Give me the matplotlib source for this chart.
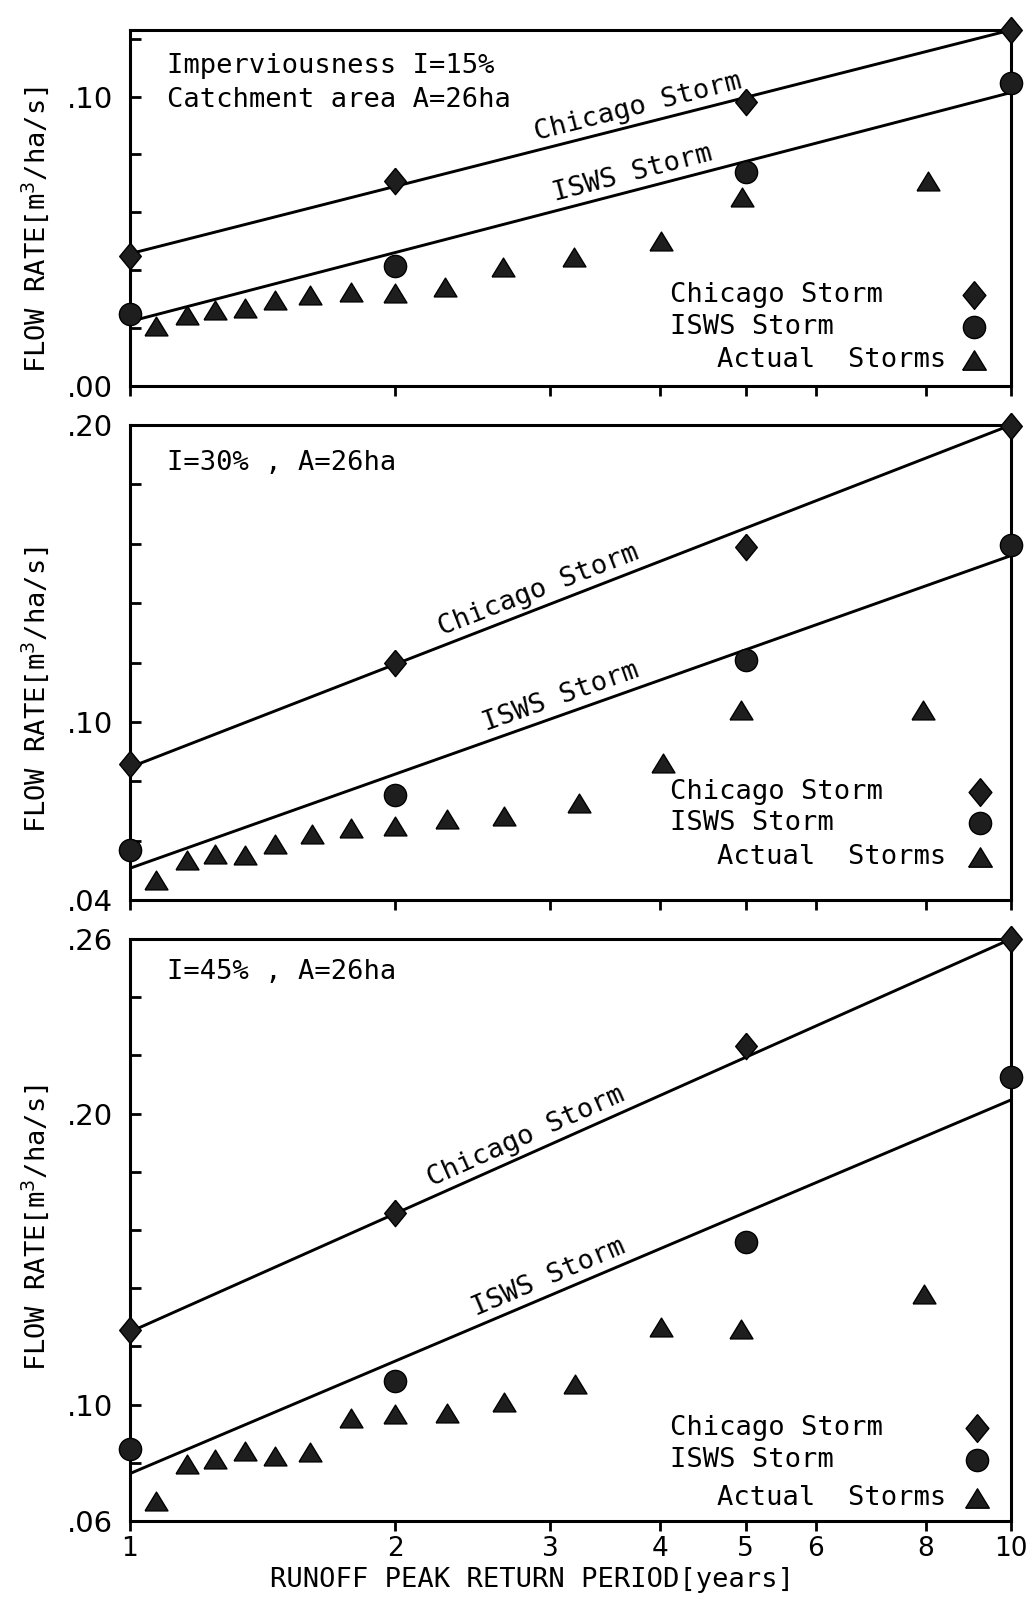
import numpy as np
import matplotlib
matplotlib.use("Agg")
import matplotlib.pyplot as plt
from matplotlib.ticker import FixedLocator, FixedFormatter, NullLocator

plt.rcParams["font.family"] = ["DejaVu Sans Mono", "DejaVu Sans"]
plt.rcParams["mathtext.fontset"] = "dejavusans"

# design-storm return periods (years)
T_DESIGN = [1, 2, 5, 10]
X_TICKS = [1, 2, 3, 4, 5, 6, 8, 10]
X_LABELS = ["1", "2", "3", "4", "5", "6", "8", "10"]

# --- panel 1: I=15%
chi_15 = [0.045, 0.0708, 0.098, 0.123]
isws_15 = [0.025, 0.0416, 0.0739, 0.1048]
chi_fit_15 = [0.0457, 0.123]       # fitted line at T=1 and T=10
isws_fit_15 = [0.0223, 0.1014]
act_T_15 = [1.07, 1.16, 1.25, 1.35, 1.46, 1.60, 1.78, 2.0, 2.28, 2.65, 3.19, 4.01, 4.95, 8.04]
act_q_15 = [0.0206, 0.0244, 0.0261, 0.0268, 0.0296, 0.0313, 0.0326, 0.032,
            0.0343, 0.0412, 0.0447, 0.0502, 0.0653, 0.0708]

# --- panel 2: I=30%
chi_30 = [0.0857, 0.1197, 0.1588, 0.1997]
isws_30 = [0.0568, 0.0755, 0.1207, 0.1595]
chi_fit_30 = [0.0847, 0.200]
isws_fit_30 = [0.0507, 0.156]
act_T_30 = [1.07, 1.16, 1.25, 1.35, 1.46, 1.61, 1.78, 2.0, 2.29, 2.66, 3.23, 4.03, 4.94, 7.95]
act_q_30 = [0.0468, 0.0536, 0.0556, 0.0553, 0.0587, 0.0621, 0.0641, 0.0648,
            0.0672, 0.0682, 0.0727, 0.0863, 0.104, 0.104]

# --- panel 3: I=45%
chi_45 = [0.1256, 0.166, 0.2233, 0.26]
isws_45 = [0.0847, 0.108, 0.1558, 0.2126]
chi_fit_45 = [0.125, 0.26]
isws_fit_45 = [0.0763, 0.2047]
act_T_45 = [1.07, 1.16, 1.25, 1.35, 1.46, 1.60, 1.78, 2.0, 2.29, 2.66, 3.20, 4.01, 4.94, 7.97]
act_q_45 = [0.067, 0.0795, 0.0814, 0.0842, 0.0823, 0.0837, 0.0953, 0.0967,
            0.0972, 0.1009, 0.107, 0.1268, 0.1261, 0.1381]

panels = [
    dict(chi=chi_15, isws=isws_15, chi_fit=chi_fit_15, isws_fit=isws_fit_15,
         aT=act_T_15, aq=act_q_15, ylim=(0.0, 0.123),
         yticks=[0.0, 0.02, 0.04, 0.06, 0.08, 0.10, 0.12],
         ylabels=[".00", "", "", "", "", ".10", ""],
         notes=["Imperviousness I=15%", "Catchment area A=26ha"],
         note_y=[0.90, 0.803],
         chi_x=3.81, isws_x=3.76,
         pos=[30, 386], leg=[0.256, 0.166, 0.073], leg_mx=0.958, ylab_y=0.44),
    dict(chi=chi_30, isws=isws_30, chi_fit=chi_fit_30, isws_fit=isws_fit_30,
         aT=act_T_30, aq=act_q_30, ylim=(0.04, 0.20),
         yticks=[0.04, 0.06, 0.08, 0.10, 0.12, 0.14, 0.16, 0.18, 0.20],
         ylabels=[".04", "", "", ".10", "", "", "", "", ".20"],
         notes=["I=30% , A=26ha"], note_y=[0.92],
         chi_x=2.96, isws_x=3.13,
         pos=[425, 900], leg=[0.227, 0.162, 0.09], leg_mx=0.965, ylab_y=0.442),
    dict(chi=chi_45, isws=isws_45, chi_fit=chi_fit_45, isws_fit=isws_fit_45,
         aT=act_T_45, aq=act_q_45, ylim=(0.06, 0.26),
         yticks=[0.06, 0.08, 0.10, 0.12, 0.14, 0.16, 0.18, 0.20, 0.22, 0.24, 0.26],
         ylabels=[".06", "", ".10", "", "", "", "", ".20", "", "", ".26"],
         notes=["I=45% , A=26ha"], note_y=[0.943],
         chi_x=2.87, isws_x=3.04,
         pos=[939, 1521], leg=[0.16, 0.105, 0.04], leg_mx=0.961, ylab_y=0.504),
]

W, H = 1035, 1598
LEFT, WIDTH = 130, 881
FS = 19.5
fig = plt.figure(figsize=(W / 100, H / 100), dpi=100)

DIAMOND = [(0, 1), (0.82, 0), (0, -1), (-0.82, 0), (0, 1)]
TRIANGLE = [(-1, -0.82), (1, -0.82), (0, 0.82), (-1, -0.82)]
mk = dict(color="#1e1e1e", markeredgecolor="black", markeredgewidth=1.0,
          linestyle="none", clip_on=False, zorder=4)

for i, p in enumerate(panels):
    top, bot = p["pos"]
    ax = fig.add_axes([LEFT / W, 1 - bot / H, WIDTH / W, (bot - top) / H])
    ax.set_xscale("log")
    ax.set_xlim(1, 10)
    ax.set_ylim(*p["ylim"])

    # fitted lines (straight on log-T axis)
    ax.plot([1, 10], p["chi_fit"], color="black", lw=2.1, zorder=3)
    ax.plot([1, 10], p["isws_fit"], color="black", lw=2.1, zorder=3)

    ax.plot(T_DESIGN, p["chi"], marker=DIAMOND, markersize=19, **mk)
    ax.plot(T_DESIGN, p["isws"], marker="o", markersize=16, **mk)
    ax.plot(p["aT"], p["aq"], marker=TRIANGLE, markersize=16.5, **mk)

    # rotated labels along the lines
    for fit, xc, lab in [(p["chi_fit"], p["chi_x"], "Chicago Storm"),
                         (p["isws_fit"], p["isws_x"], "ISWS Storm")]:
        a = ax.transData.transform((1, fit[0]))
        b = ax.transData.transform((10, fit[1]))
        ang = np.degrees(np.arctan2(b[1] - a[1], b[0] - a[0]))
        yc = fit[0] + (fit[1] - fit[0]) * np.log10(xc)
        d = 3
        off = (-np.sin(np.radians(ang)) * d, np.cos(np.radians(ang)) * d)
        ax.annotate(lab, (xc, yc), xytext=off, textcoords="offset points",
                    ha="center", va="bottom", rotation=ang,
                    rotation_mode="anchor", fontsize=FS)

    for txt, ny in zip(p["notes"], p["note_y"]):
        ax.text(0.042, ny, txt, transform=ax.transAxes,
                ha="left", va="center", fontsize=FS)

    # legend block
    ly = p["leg"]
    mx = p["leg_mx"]
    ax.text(0.613, ly[0], "Chicago Storm", transform=ax.transAxes,
            ha="left", va="center", fontsize=FS)
    ax.text(0.613, ly[1], "ISWS Storm", transform=ax.transAxes,
            ha="left", va="center", fontsize=FS)
    ax.text(0.926, ly[2], "Actual  Storms", transform=ax.transAxes,
            ha="right", va="center", fontsize=FS)
    ax.plot([mx], [ly[0]], marker=DIAMOND, markersize=20, transform=ax.transAxes, **mk)
    ax.plot([mx], [ly[1]], marker="o", markersize=16, transform=ax.transAxes, **mk)
    ax.plot([mx], [ly[2]], marker=TRIANGLE, markersize=17, transform=ax.transAxes, **mk)

    ax.yaxis.set_major_locator(FixedLocator(p["yticks"]))
    ax.yaxis.set_major_formatter(FixedFormatter(p["ylabels"]))
    ax.yaxis.set_minor_locator(NullLocator())
    ax.xaxis.set_major_locator(FixedLocator(X_TICKS))
    ax.xaxis.set_minor_locator(NullLocator())
    if i == 2:
        ax.xaxis.set_major_formatter(FixedFormatter(X_LABELS))
        ax.text(0.456, -0.1015, "RUNOFF PEAK RETURN PERIOD[years]",
                transform=ax.transAxes, ha="center", va="center", fontsize=FS)
    else:
        ax.xaxis.set_major_formatter(FixedFormatter([""] * len(X_TICKS)))
    ax.tick_params(axis="y", direction="in", length=8, width=2, pad=12)
    ax.tick_params(axis="x", direction="out", length=7, width=2, pad=4)
    for lab in ax.get_yticklabels():
        lab.set_fontfamily("DejaVu Sans")
        lab.set_fontsize(21)
    for lab in ax.get_xticklabels():
        lab.set_fontfamily("DejaVu Sans")
        lab.set_fontsize(19)
    for s in ax.spines.values():
        s.set_linewidth(2.2)
    ax.set_ylabel("FLOW RATE[m$^3$/ha/s]", fontsize=FS)
    ax.yaxis.set_label_coords(-0.09, p["ylab_y"])

fig.savefig("out.png", dpi=100)
